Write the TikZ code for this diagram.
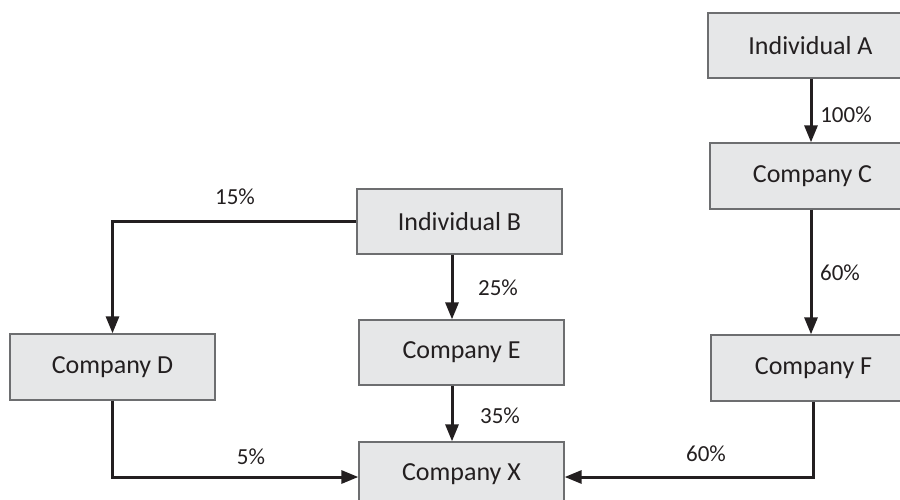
\documentclass[tikz,border=0pt]{standalone}
\usepackage{fontspec}
\setmainfont{Carlito}
\usetikzlibrary{arrows.meta}
\definecolor{boxfill}{HTML}{E6E7E8}
\definecolor{boxline}{HTML}{6D6E70}
\definecolor{ink}{HTML}{231F20}
\tikzset{
  box/.style={draw=boxline, line width=1.3pt, fill=boxfill, minimum width=205pt, minimum height=65pt, inner sep=0pt, text=ink, font=\fontsize{26}{30}\selectfont},
  arr/.style={draw=ink, line width=3pt, -{Triangle[length=17pt,width=13pt]}},
  pct/.style={text=ink, font=\fontsize{23}{27}\selectfont, inner sep=0pt}
}
\begin{document}
\begin{tikzpicture}[x=1pt,y=-1pt]
\useasboundingbox (0,0) rectangle (900,500);
\clip (0,0) rectangle (900,500);
\node[box] (A) at (810.5,45.5) {Individual A};
\node[box, minimum height=66pt] (C) at (812.5,176) {Company C};
\node[box, minimum height=66pt] (F) at (813.5,368) {Company F};
\node[box] (B) at (459.5,221.5) {Individual B};
\node[box, minimum height=66pt] (D) at (112.5,367) {Company D};
\node[box] (E) at (461.5,352.5) {Company E};
\node[box] (X) at (461.5,474.5) {Company X};
\coordinate (bx) at (452,0);
\coordinate (cx) at (811,0);
\draw[arr] (A.south -| cx) -- (C.north -| cx);
\draw[arr] (C.south -| cx) -- (F.north -| cx);
\draw[arr] (B.south -| bx) -- (E.north -| bx);
\draw[arr] (E.south -| bx) -- (X.north -| bx);
\draw[arr] (B.west) -| (D.north);
\draw[arr] (D.south) |- ([yshift=-2.5pt]X.west);
\draw[arr] (F.south) |- ([yshift=-2.5pt]X.east);
\node[pct] (l1) at (846,115) {100\%};
\node[pct] (l2) at (840,273) {60\%};
\node[pct] (l3) at (235,197) {15\%};
\node[pct] (l4) at (498,288) {25\%};
\node[pct] (l5) at (500,416) {35\%};
\node[pct] (l6) at (251,457) {5\%};
\node[pct] (l7) at (706,454) {60\%};
\end{tikzpicture}
\end{document}
